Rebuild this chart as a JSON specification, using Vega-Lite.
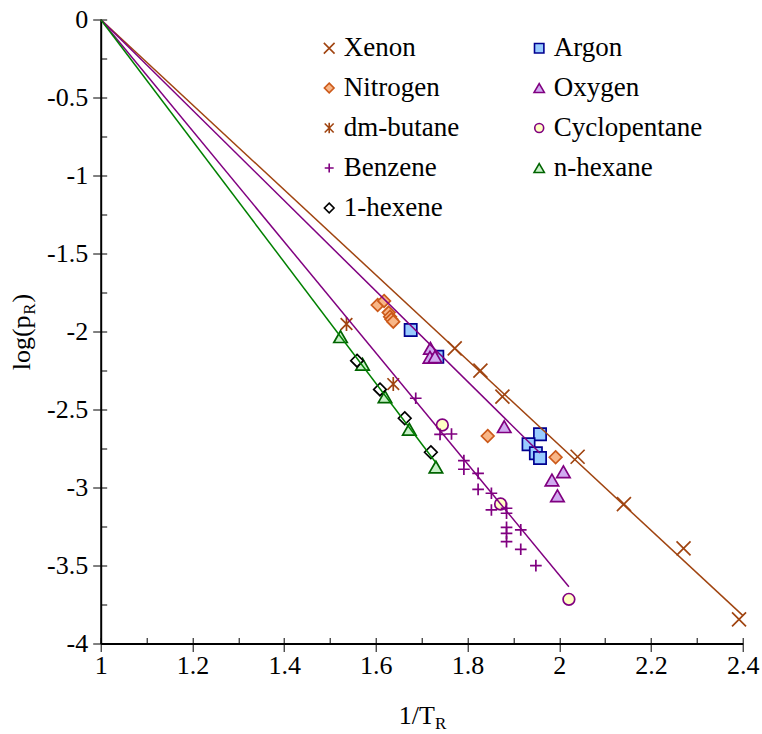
{
  "$schema": "https://vega.github.io/schema/vega-lite/v6.json",
  "width": 642,
  "height": 624,
  "autosize": {"type": "none"},
  "padding": {"left": 100.7, "top": 19.5, "right": 19.3, "bottom": 90.5},
  "background": "white",
  "config": {
    "view": {"stroke": null},
    "font": "Liberation Serif",
    "locale": {"number": {"decimal": ".", "thousands": ",", "grouping": [3], "currency": ["$", ""], "minus": "-"}},
    "legend": {
      "labelFont": "Liberation Serif",
      "labelFontSize": 27,
      "labelColor": "black",
      "symbolSize": 80,
      "symbolStrokeWidth": 1.6,
      "labelOffset": 1,
      "padding": 0,
      "rowPadding": 12,
      "columnPadding": 66
    }
  },
  "datasets": {
    "pts": [
      {"s": "Xenon", "x": 1.772, "y": -2.108},
      {"s": "Xenon", "x": 1.828, "y": -2.251},
      {"s": "Xenon", "x": 1.876, "y": -2.418},
      {"s": "Xenon", "x": 2.040, "y": -2.803},
      {"s": "Xenon", "x": 2.141, "y": -3.106},
      {"s": "Xenon", "x": 2.271, "y": -3.390},
      {"s": "Xenon", "x": 2.392, "y": -3.845},
      {"s": "Argon", "x": 1.676, "y": -1.990},
      {"s": "Argon", "x": 1.734, "y": -2.162},
      {"s": "Argon", "x": 1.958, "y": -2.659},
      {"s": "Argon", "x": 1.933, "y": -2.723},
      {"s": "Argon", "x": 1.949, "y": -2.781},
      {"s": "Argon", "x": 1.958, "y": -2.811},
      {"s": "Nitrogen", "x": 1.604, "y": -1.830},
      {"s": "Nitrogen", "x": 1.618, "y": -1.804},
      {"s": "Nitrogen", "x": 1.628, "y": -1.879},
      {"s": "Nitrogen", "x": 1.631, "y": -1.905},
      {"s": "Nitrogen", "x": 1.634, "y": -1.922},
      {"s": "Nitrogen", "x": 1.638, "y": -1.937},
      {"s": "Nitrogen", "x": 1.844, "y": -2.670},
      {"s": "Nitrogen", "x": 1.992, "y": -2.806},
      {"s": "Oxygen", "x": 1.719, "y": -2.108},
      {"s": "Oxygen", "x": 1.718, "y": -2.165},
      {"s": "Oxygen", "x": 1.729, "y": -2.162},
      {"s": "Oxygen", "x": 1.880, "y": -2.610},
      {"s": "Oxygen", "x": 2.009, "y": -2.899},
      {"s": "Oxygen", "x": 1.984, "y": -2.952},
      {"s": "Oxygen", "x": 1.996, "y": -3.053},
      {"s": "dm-butane", "x": 1.536, "y": -1.952},
      {"s": "dm-butane", "x": 1.638, "y": -2.337},
      {"s": "Cyclopentane", "x": 1.745, "y": -2.599},
      {"s": "Cyclopentane", "x": 1.872, "y": -3.106},
      {"s": "Cyclopentane", "x": 2.021, "y": -3.717},
      {"s": "Benzene", "x": 1.687, "y": -2.428},
      {"s": "Benzene", "x": 1.740, "y": -2.659},
      {"s": "Benzene", "x": 1.765, "y": -2.657},
      {"s": "Benzene", "x": 1.792, "y": -2.828},
      {"s": "Benzene", "x": 1.792, "y": -2.883},
      {"s": "Benzene", "x": 1.823, "y": -2.909},
      {"s": "Benzene", "x": 1.823, "y": -3.012},
      {"s": "Benzene", "x": 1.852, "y": -3.037},
      {"s": "Benzene", "x": 1.852, "y": -3.144},
      {"s": "Benzene", "x": 1.885, "y": -3.133},
      {"s": "Benzene", "x": 1.885, "y": -3.165},
      {"s": "Benzene", "x": 1.885, "y": -3.255},
      {"s": "Benzene", "x": 1.885, "y": -3.294},
      {"s": "Benzene", "x": 1.885, "y": -3.347},
      {"s": "Benzene", "x": 1.916, "y": -3.272},
      {"s": "Benzene", "x": 1.916, "y": -3.396},
      {"s": "Benzene", "x": 1.949, "y": -3.501},
      {"s": "n-hexane", "x": 1.523, "y": -2.033},
      {"s": "n-hexane", "x": 1.571, "y": -2.210},
      {"s": "n-hexane", "x": 1.620, "y": -2.418},
      {"s": "n-hexane", "x": 1.673, "y": -2.627},
      {"s": "n-hexane", "x": 1.731, "y": -2.869},
      {"s": "1-hexene", "x": 1.559, "y": -2.187},
      {"s": "1-hexene", "x": 1.609, "y": -2.371},
      {"s": "1-hexene", "x": 1.663, "y": -2.556},
      {"s": "1-hexene", "x": 1.720, "y": -2.774}
    ],
    "fits": [
      {"fit": "Xenon fit", "x": 1, "y": 0},
      {"fit": "Xenon fit", "x": 2.4, "y": -3.82},
      {"fit": "Argon-Oxygen fit", "x": 1, "y": 0},
      {"fit": "Argon-Oxygen fit", "x": 1.958, "y": -2.779},
      {"fit": "Benzene fit", "x": 1, "y": 0},
      {"fit": "Benzene fit", "x": 2.021, "y": -3.636},
      {"fit": "Hexane fit", "x": 1, "y": 0},
      {"fit": "Hexane fit", "x": 1.731, "y": -2.841}
    ]
  },
  "layer": [
    {
      "data": {"name": "pts"},
      "mark": {"type": "point", "filled": true, "strokeWidth": 1.7, "opacity": 1, "size": 136},
      "encoding": {
        "x": {
          "field": "x", "type": "quantitative",
          "scale": {"domain": [1, 2.4], "nice": false, "zero": false},
          "axis": {
            "orient": "bottom",
            "values": [1, 1.2, 1.4, 1.6, 1.8, 2, 2.2, 2.4],
            "format": "~g",
            "tickSize": 8, "tickWidth": 1, "tickColor": "black",
            "domainColor": "black", "domainWidth": 2,
            "labelFont": "Liberation Serif", "labelFontSize": 26, "labelColor": "black",
            "labelPadding": 1, "labelFlush": false, "labelOverlap": false,
            "grid": false,
            "title": "1/T", "titleFont": "Liberation Serif", "titleFontSize": 26,
            "titleFontWeight": "normal", "titleColor": "black",
            "titleX": 315.7, "titleY": 80, "titleAlign": "center", "titleBaseline": "alphabetic"
          }
        },
        "y": {
          "field": "y", "type": "quantitative",
          "scale": {"domain": [-4, 0], "nice": false, "zero": false},
          "axis": {
            "orient": "left",
            "values": [0, -0.5, -1, -1.5, -2, -2.5, -3, -3.5, -4],
            "format": "~g",
            "tickSize": 8, "tickWidth": 1, "tickColor": "black",
            "domainColor": "black", "domainWidth": 2,
            "labelFont": "Liberation Serif", "labelFontSize": 26, "labelColor": "black",
            "labelPadding": 5, "labelFlush": false, "labelOverlap": false,
            "grid": false,
            "title": "log(p\u2002)", "titleFont": "Liberation Serif", "titleFontSize": 26,
            "titleFontWeight": "normal", "titleColor": "black",
            "titleX": -71, "titleY": 312, "titleAngle": -90, "titleAlign": "center", "titleBaseline": "alphabetic"
          }
        },
        "shape": {
          "field": "s", "type": "nominal",
          "scale": {
            "domain": ["Xenon", "Argon", "Nitrogen", "Oxygen", "dm-butane", "Cyclopentane", "Benzene", "n-hexane", "1-hexene"],
            "range": [
              "M-1.2,-1.2L1.2,1.2M-1.2,1.2L1.2,-1.2",
              "M-1.05,-1.05L1.05,-1.05L1.05,1.05L-1.05,1.05Z",
              "M0,-1.08L1.08,0L0,1.08L-1.08,0Z",
              "M0,-1L1.15,1L-1.15,1Z",
              "M-1,-1L1,1M-1,1L1,-1M0,-1.2L0,1.2",
              "circle",
              "M-1,0L1,0M0,-1L0,1",
              "M0,-1L1.15,1L-1.15,1Z",
              "M0,-1.08L1.08,0L0,1.08L-1.08,0Z"
            ]
          },
          "legend": {"title": null, "orient": "none", "legendX": 215, "legendY": 15, "columns": 2, "direction": "horizontal"}
        },
        "fill": {
          "field": "s", "type": "nominal",
          "scale": {
            "domain": ["Xenon", "Argon", "Nitrogen", "Oxygen", "dm-butane", "Cyclopentane", "Benzene", "n-hexane", "1-hexene"],
            "range": ["transparent", "#99CCFF", "#F8B687", "#D0ABF0", "transparent", "#FFFFC4", "transparent", "#C8F0C8", "white"]
          }
        },
        "stroke": {
          "field": "s", "type": "nominal",
          "scale": {
            "domain": ["Xenon", "Argon", "Nitrogen", "Oxygen", "dm-butane", "Cyclopentane", "Benzene", "n-hexane", "1-hexene"],
            "range": ["#A04410", "#000090", "#CC5A1A", "#800080", "#A04410", "#800080", "#800080", "#006400", "black"]
          }
        }
      }
    },
    {
      "data": {"name": "fits"},
      "mark": {"type": "line", "strokeWidth": 1.5},
      "encoding": {
        "x": {
          "field": "x", "type": "quantitative",
          "axis": {
            "orient": "bottom",
            "values": [1, 1.1, 1.2, 1.3, 1.4, 1.5, 1.6, 1.7, 1.8, 1.9, 2, 2.1, 2.2, 2.3, 2.4],
            "tickSize": -6, "tickWidth": 1, "tickColor": "black",
            "labels": false, "domain": false, "grid": false,
            "title": "R", "titleFont": "Liberation Serif", "titleFontSize": 17,
            "titleFontWeight": "normal", "titleColor": "black",
            "titleX": 339.4, "titleY": 85, "titleAlign": "center", "titleBaseline": "alphabetic"
          }
        },
        "y": {
          "field": "y", "type": "quantitative",
          "axis": {
            "orient": "left",
            "values": [0, -0.25, -0.5, -0.75, -1, -1.25, -1.5, -1.75, -2, -2.25, -2.5, -2.75, -3, -3.25, -3.5, -3.75, -4],
            "tickSize": -6, "tickWidth": 1, "tickColor": "black",
            "labels": false, "domain": false, "grid": false,
            "title": "R", "titleFont": "Liberation Serif", "titleFontSize": 17,
            "titleFontWeight": "normal", "titleColor": "black",
            "titleX": -66, "titleY": 289, "titleAngle": -90, "titleAlign": "center", "titleBaseline": "alphabetic"
          }
        },
        "color": {
          "field": "fit", "type": "nominal",
          "scale": {
            "domain": ["Xenon fit", "Argon-Oxygen fit", "Benzene fit", "Hexane fit"],
            "range": ["#A04410", "#800080", "#800080", "#008000"]
          },
          "legend": null
        }
      }
    }
  ],
  "resolve": {"axis": {"x": "independent", "y": "independent"}}
}
